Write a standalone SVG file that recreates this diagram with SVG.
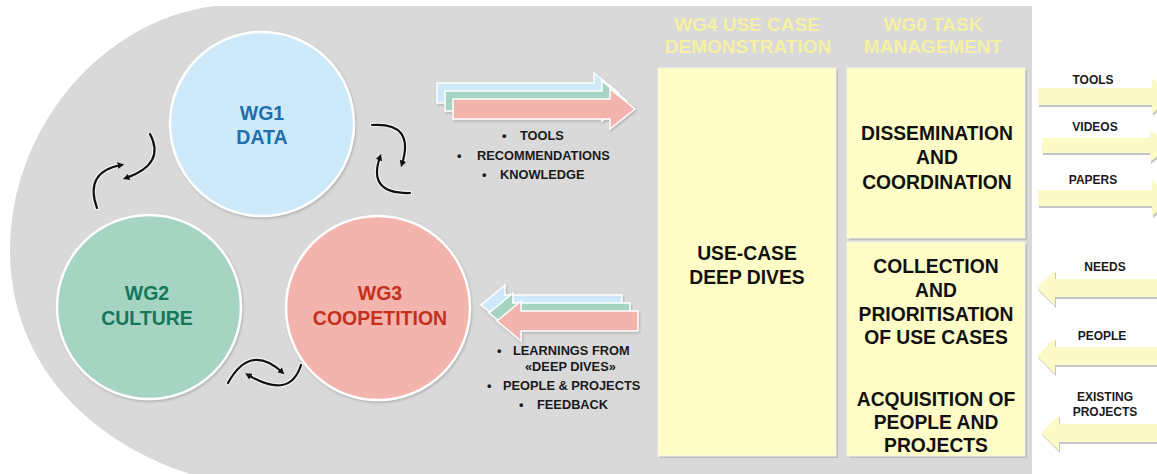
<svg xmlns="http://www.w3.org/2000/svg" width="1157" height="474" viewBox="0 0 1157 474">
<defs>
<style>
.t{font-family:"Liberation Sans",Arial,sans-serif;font-weight:bold;}
.wg{font-size:19.5px;text-anchor:middle;}
.hd{font-size:19px;text-anchor:middle;fill:#f5f0a4;}
.bx{font-size:19.3px;text-anchor:middle;fill:#111;}
.bl{font-size:12.8px;fill:#1a1a1a;}
.lb{font-size:12px;text-anchor:middle;fill:#1a1a1a;}
.circ{stroke:#ffffff;stroke-width:2.5;}
.ybox{fill:#fefdc8;stroke:#f4f4e4;stroke-width:1;}
.shadow{fill:#bdbdbd;}
.barr{stroke:#ffffff;stroke-width:1.5;}
.yarr{fill:#fcfbc8;}
.yarrs{fill:#c4c4c4;}
.halo{fill:none;stroke:#f4f4f4;stroke-width:4.5;stroke-linecap:round;}
.cyc{fill:none;stroke:#111;stroke-width:2.2;stroke-linecap:round;}
</style>
<marker id="ah" viewBox="0 0 10 10" refX="5" refY="5" markerWidth="3" markerHeight="3" orient="auto">
<path d="M0,0 L10,5 L0,10 Z" fill="#111"/>
</marker>
<filter id="sh" x="-10%" y="-10%" width="120%" height="120%">
<feDropShadow dx="1" dy="1.5" stdDeviation="1" flood-color="#888" flood-opacity="0.5"/>
</filter>
</defs>
<rect width="1157" height="474" fill="#ffffff"/>
<path id="bg" d="M1032,6 H215 C100,20 10,130 10,250 C10,360 85,440 190,474 H1032 Z" fill="#d9d9d9"/>

<g id="wg1"><circle class="circ" cx="262" cy="124" r="92" fill="#cde9fa" filter="url(#sh)"/>
<text class="t wg" x="262" y="120" fill="#1e6fae">WG1</text><text class="t wg" x="262" y="144" fill="#1e6fae">DATA</text></g>
<g id="wg2"><circle class="circ" cx="149" cy="307" r="92" fill="#a6d4c3" filter="url(#sh)"/>
<text class="t wg" x="147" y="300" fill="#16785a">WG2</text><text class="t wg" x="147" y="325" fill="#16785a">CULTURE</text></g>
<g id="wg3"><circle class="circ" cx="378" cy="308" r="92" fill="#f2b4ac" filter="url(#sh)"/>
<text class="t wg" x="380" y="300" fill="#c4301e">WG3</text><text class="t wg" x="380" y="325" fill="#c4301e">COOPETITION</text></g>

<g id="connectors">
<g id="cycle12">
<path class="halo" d="M150,134 Q166,164 126,178"/><path class="cyc" d="M150,134 Q166,164 126,178" marker-end="url(#ah)"/>
<path class="halo" d="M97,208 Q84,172 121,165"/><path class="cyc" d="M97,208 Q84,172 121,165" marker-end="url(#ah)"/>
</g>
<g id="cycle13">
<path class="halo" d="M372,125 Q415,122 402,164"/><path class="cyc" d="M372,125 Q415,122 402,164" marker-end="url(#ah)"/>
<path class="halo" d="M410,193 Q367,194 380,157"/><path class="cyc" d="M410,193 Q367,194 380,157" marker-end="url(#ah)"/>
</g>
<g id="cycle23">
<path class="halo" d="M228,383 Q250,343 282,372"/><path class="cyc" d="M228,383 Q250,343 282,372" marker-end="url(#ah)"/>
<path class="halo" d="M301,365 Q290,400 248,375"/><path class="cyc" d="M301,365 Q290,400 248,375" marker-end="url(#ah)"/>
</g>
<g id="bundle-right" filter="url(#sh)">
<path class="barr" d="M437,83 H594 V73 L619,93 L594,113 V103 H437 Z" fill="#cde9fa"/>
<path class="barr" d="M445,91 H602 V81 L627,101 L602,121 V111 H445 Z" fill="#a6d4c3"/>
<path class="barr" d="M453,99 H610 V89 L635,109 L610,129 V119 H453 Z" fill="#f2b4ac"/>
</g>
<g id="bundle-left" filter="url(#sh)">
<path class="barr" d="M622,295 H505 V285 L481,305 L505,325 V315 H622 Z" fill="#cde9fa"/>
<path class="barr" d="M630,303 H513 V293 L489,313 L513,333 V323 H630 Z" fill="#a6d4c3"/>
<path class="barr" d="M638,311 H521 V301 L497,321 L521,341 V331 H638 Z" fill="#f2b4ac"/>
</g>
<g id="side-arrows">
<path class="yarrs" d="M1039,90 H1153 V80 L1173,98 L1153,116 V107 H1039 Z"/>
<path class="yarr" d="M1038,88 H1152 V78 L1172,96 L1152,114 V105 H1038 Z"/>
<path class="yarrs" d="M1043,140 H1151 V132 L1171,148 L1151,164 V155 H1043 Z"/>
<path class="yarr" d="M1042,138 H1150 V130 L1170,146 L1150,162 V153 H1042 Z"/>
<path class="yarrs" d="M1039,192 H1153 V182 L1173,200 L1153,218 V208 H1039 Z"/>
<path class="yarr" d="M1038,190 H1152 V180 L1172,198 L1152,216 V206 H1038 Z"/>
<path class="yarrs" d="M1161,281 H1056 V272 L1038,290 L1056,308 V299 H1161 Z"/>
<path class="yarr" d="M1160,279 H1055 V270 L1037,288 L1055,306 V297 H1160 Z"/>
<path class="yarrs" d="M1161,349 H1056 V340 L1038,358 L1056,376 V367 H1161 Z"/>
<path class="yarr" d="M1160,347 H1055 V338 L1037,356 L1055,374 V365 H1160 Z"/>
<path class="yarrs" d="M1161,426 H1060 V417 L1042,435 L1060,453 V444 H1161 Z"/>
<path class="yarr" d="M1160,424 H1059 V415 L1041,433 L1059,451 V442 H1160 Z"/>
</g>
</g>

<g id="bullets-top">
<text class="t bl" x="502" y="140">•</text><text class="t bl" x="520" y="140">TOOLS</text>
<text class="t bl" x="457" y="160">•</text><text class="t bl" x="477" y="160">RECOMMENDATIONS</text>
<text class="t bl" x="482" y="179">•</text><text class="t bl" x="500" y="179">KNOWLEDGE</text>
</g>
<g id="bullets-bottom">
<text class="t bl" x="497" y="355">•</text><text class="t bl" x="513" y="355">LEARNINGS FROM</text>
<text class="t bl" x="525" y="371">«DEEP DIVES»</text>
<text class="t bl" x="487" y="390">•</text><text class="t bl" x="503" y="390">PEOPLE &amp; PROJECTS</text>
<text class="t bl" x="519" y="409">•</text><text class="t bl" x="537" y="409">FEEDBACK</text>
</g>

<g id="wg4">
<text class="t hd" x="747" y="31">WG4 USE CASE</text>
<text class="t hd" x="748" y="53">DEMONSTRATION</text>
<rect class="shadow" x="660" y="70" width="178" height="388"/>
<rect class="ybox" x="658" y="68" width="178" height="388"/>
<text class="t bx" x="747" y="260">USE-CASE</text>
<text class="t bx" x="747" y="284">DEEP DIVES</text>
</g>
<g id="wg0">
<text class="t hd" x="933" y="31">WG0 TASK</text>
<text class="t hd" x="933" y="53">MANAGEMENT</text>
</g>
<g id="wg0-dissemination">
<rect class="shadow" x="849" y="70" width="178" height="170"/>
<rect class="ybox" x="847" y="68" width="178" height="170"/>
<text class="t bx" x="937" y="140">DISSEMINATION</text>
<text class="t bx" x="937" y="164">AND</text>
<text class="t bx" x="937" y="189">COORDINATION</text>
</g>
<g id="wg0-collection">
<rect class="shadow" x="849" y="244" width="178" height="214"/>
<rect class="ybox" x="847" y="242" width="178" height="214"/>
<text class="t bx" x="936" y="273">COLLECTION</text>
<text class="t bx" x="936" y="297">AND</text>
<text class="t bx" x="936" y="321">PRIORITISATION</text>
<text class="t bx" x="936" y="344">OF USE CASES</text>
<text class="t bx" x="936" y="406">ACQUISITION OF</text>
<text class="t bx" x="936" y="429">PEOPLE AND</text>
<text class="t bx" x="936" y="452">PROJECTS</text>
</g>

<g id="side-labels">
<text class="t lb" x="1093" y="84">TOOLS</text>
<text class="t lb" x="1095" y="131">VIDEOS</text>
<text class="t lb" x="1093" y="184">PAPERS</text>
<text class="t lb" x="1105" y="271">NEEDS</text>
<text class="t lb" x="1102" y="340">PEOPLE</text>
<text class="t lb" x="1105" y="401">EXISTING</text>
<text class="t lb" x="1105" y="416">PROJECTS</text>
</g>
</svg>
